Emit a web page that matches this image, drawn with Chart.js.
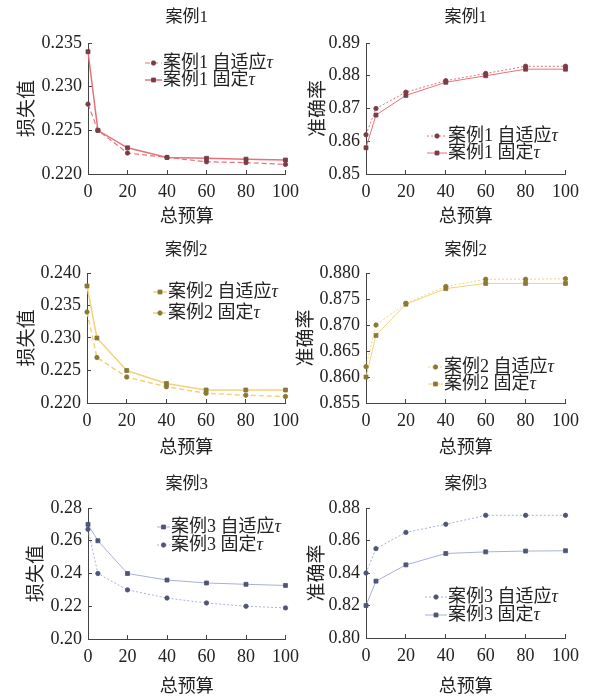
<!DOCTYPE html>
<html>
<head>
<meta charset="utf-8">
<script src="https://cdn.jsdelivr.net/npm/chart.js@4.4.1/dist/chart.umd.min.js"></script>
<style>
  body { margin: 0; background: #fff; }
  #wrap { position: relative; width: 590px; height: 696px; overflow: hidden; }
  canvas { position: absolute; }
</style>
</head>
<body>
<div id="wrap"></div>
<script>
// x values (总预算) and tick marks
const budget = [0, 5, 20, 40, 60, 80, 100]
const budgetTicks = [0, 20, 40, 60, 80, 100]

// 案例1
const loss1Adaptive = [0.2280, 0.2250, 0.2224, 0.2219, 0.2214, 0.2213, 0.2211]
const loss1Fixed = [0.2340, 0.2250, 0.2230, 0.2219, 0.2218, 0.2217, 0.2216]
const acc1Adaptive = [0.862, 0.870, 0.875, 0.8785, 0.8807, 0.8829, 0.8829]
const acc1Fixed = [0.858, 0.868, 0.874, 0.878, 0.880, 0.882, 0.882]
// 案例2
const loss2Adaptive = [0.238, 0.230, 0.225, 0.223, 0.222, 0.222, 0.222]
const loss2Fixed = [0.234, 0.227, 0.224, 0.2225, 0.2215, 0.2212, 0.2210]
const acc2Adaptive = [0.862, 0.870, 0.8742, 0.8774, 0.8788, 0.8788, 0.8789]
const acc2Fixed = [0.860, 0.868, 0.874, 0.877, 0.878, 0.878, 0.878]
// 案例3
const loss3Adaptive = [0.270, 0.260, 0.240, 0.236, 0.2342, 0.2334, 0.2327]
const loss3Fixed = [0.267, 0.240, 0.230, 0.225, 0.222, 0.220, 0.219]
const acc3Adaptive = [0.840, 0.855, 0.865, 0.870, 0.8755, 0.8755, 0.8755]
const acc3Fixed = [0.820, 0.835, 0.845, 0.852, 0.853, 0.8535, 0.8537]

// y tick values
const lossTicks1 = [0.220, 0.225, 0.230, 0.235]
const accTicks1 = [0.85, 0.86, 0.87, 0.88, 0.89]
const lossTicks2 = [0.220, 0.225, 0.230, 0.235, 0.240]
const accTicks2 = [0.855, 0.860, 0.865, 0.870, 0.875, 0.880]
const lossTicks3 = [0.20, 0.22, 0.24, 0.26, 0.28]
const accTicks3 = [0.80, 0.82, 0.84, 0.86, 0.88]

const FONT = '"Liberation Serif", "Noto Sans CJK SC", serif'
const INK = '#222'
const AXIS = '#444'
const TICK_SIZE = 18
const LEGEND_SIZE = 18

const red = {line: '#e8707c', mark: '#7a3c44'}
const gold = {line: '#f4d27c', mark: '#8a7935'}
const blue = {line: '#aab0d8', mark: '#4f5675'}

const dashed = [5, 3]
const dotted = [2, 2]

const panels = [
  {left: 0, top: 0, w: 310, h: 230, plot: [88, 43, 288, 174], titleY: 18, yTitleX: 28, xTitleY: 217,
   title: '案例1', yTitle: '损失值', yTicks: lossTicks1, dec: 3, color: red,
   legend: {x: 145, y: 63, gap: 17, len: 17},
   series: [
     {label: '案例1 自适应τ', data: loss1Adaptive, dash: dashed, width: 1.2, marker: 'circle'},
     {label: '案例1 固定τ', data: loss1Fixed, dash: [], width: 1.5, marker: 'rect'}]},
  {left: 295, top: 0, w: 295, h: 230, plot: [71, 43, 272, 174], titleY: 18, yTitleX: 24, xTitleY: 217,
   title: '案例1', yTitle: '准确率', yTicks: accTicks1, dec: 2, color: red,
   legend: {x: 132, y: 136, gap: 17, len: 20},
   series: [
     {label: '案例1 自适应τ', data: acc1Adaptive, dash: dotted, width: 1, marker: 'circle'},
     {label: '案例1 固定τ', data: acc1Fixed, dash: [], width: 1, marker: 'rect'}]},
  {left: 0, top: 230, w: 310, h: 230, plot: [87, 43, 287, 173], titleY: 21, yTitleX: 28, xTitleY: 218,
   title: '案例2', yTitle: '损失值', yTicks: lossTicks2, dec: 3, color: gold,
   legend: {x: 153, y: 62, gap: 21, len: 14},
   series: [
     {label: '案例2 自适应τ', data: loss2Adaptive, dash: [], width: 1.5, marker: 'rect'},
     {label: '案例2 固定τ', data: loss2Fixed, dash: dashed, width: 1.5, marker: 'circle'}]},
  {left: 295, top: 230, w: 295, h: 230, plot: [71, 43, 271, 173], titleY: 21, yTitleX: 12, xTitleY: 218,
   title: '案例2', yTitle: '准确率', yTicks: accTicks2, dec: 3, color: gold,
   legend: {x: 133, y: 137, gap: 17, len: 15},
   series: [
     {label: '案例2 自适应τ', data: acc2Adaptive, dash: dotted, width: 1, marker: 'circle'},
     {label: '案例2 固定τ', data: acc2Fixed, dash: [], width: 1, marker: 'rect'}]},
  {left: 0, top: 460, w: 310, h: 236, plot: [88, 48, 288, 179], titleY: 25, yTitleX: 37, xTitleY: 227,
   title: '案例3', yTitle: '损失值', yTicks: lossTicks3, dec: 2, color: blue,
   legend: {x: 157, y: 67, gap: 18, len: 13},
   series: [
     {label: '案例3 自适应τ', data: loss3Adaptive, dash: [], width: 1, marker: 'rect'},
     {label: '案例3 固定τ', data: loss3Fixed, dash: dotted, width: 1, marker: 'circle'}]},
  {left: 295, top: 460, w: 295, h: 236, plot: [71, 48, 272, 178], titleY: 25, yTitleX: 23, xTitleY: 227,
   title: '案例3', yTitle: '准确率', yTicks: accTicks3, dec: 2, color: blue,
   legend: {x: 130, y: 137, gap: 18, len: 22},
   series: [
     {label: '案例3 自适应τ', data: acc3Adaptive, dash: dotted, width: 1, marker: 'circle'},
     {label: '案例3 固定τ', data: acc3Fixed, dash: [], width: 1, marker: 'rect'}]}
]

// legend drawn inside the plot: line sample, marker, text with italic tau
const insideLegend = {
  id: 'insideLegend',
  afterDraw(chart, args, opts) {
    const {ctx} = chart
    chart.data.datasets.forEach((ds, i) => {
      const y = opts.y + i * opts.gap
      ctx.save()
      ctx.strokeStyle = ds.borderColor
      ctx.lineWidth = ds.borderWidth
      ctx.setLineDash(ds.borderDash)
      ctx.beginPath()
      ctx.moveTo(opts.x, y)
      ctx.lineTo(opts.x + opts.len, y)
      ctx.stroke()
      ctx.setLineDash([])
      const cx = opts.x + opts.len / 2
      ctx.fillStyle = ds.pointBackgroundColor
      ctx.strokeStyle = ds.pointBorderColor
      ctx.lineWidth = ds.pointBorderWidth
      ctx.beginPath()
      if (ds.pointStyle === 'rect') {
        const s = ds.pointRadius * Math.SQRT1_2
        ctx.rect(cx - s, y - s, 2 * s, 2 * s)
      } else {
        ctx.arc(cx, y, ds.pointRadius, 0, Math.PI * 2)
      }
      ctx.fill()
      ctx.stroke()
      const [head] = ds.label.split('τ')
      ctx.fillStyle = INK
      ctx.textBaseline = 'middle'
      ctx.font = LEGEND_SIZE + 'px ' + FONT
      const tx = opts.x + opts.len + 1
      ctx.fillText(head, tx, y)
      const hw = ctx.measureText(head).width
      ctx.font = 'italic ' + LEGEND_SIZE + 'px ' + FONT
      ctx.fillText('τ', tx + hw, y)
      ctx.restore()
    })
  }
}

Chart.defaults.font.family = FONT
Chart.defaults.color = INK

const wrap = document.getElementById('wrap')

panels.forEach(p => {
  const canvas = document.createElement('canvas')
  canvas.width = p.w
  canvas.height = p.h
  canvas.style.left = p.left + 'px'
  canvas.style.top = p.top + 'px'
  wrap.appendChild(canvas)

  const [pl, pt, pr, pb] = p.plot
  const titleLH = 17 * 1.2
  const xTitleLH = 18 * 1.2
  const yTitleLH = 19 * 1.2

  const datasets = p.series.map(s => ({
    label: s.label,
    data: budget.map((x, i) => ({x, y: s.data[i]})),
    borderColor: p.color.line,
    borderWidth: s.width,
    borderDash: s.dash,
    pointStyle: s.marker,
    pointRadius: s.marker === 'rect' ? 2.8 : 2.2,
    pointBackgroundColor: p.color.mark,
    pointBorderColor: p.color.mark,
    pointBorderWidth: 0.8,
    tension: 0,
    clip: false
  }))

  const gridOpts = {display: true, drawOnChartArea: false, drawTicks: true, tickLength: -4, color: AXIS, lineWidth: 1}
  const borderOpts = {display: true, color: AXIS, width: 1}

  new Chart(canvas, {
    type: 'line',
    data: {datasets},
    plugins: [insideLegend],
    options: {
      responsive: false,
      animation: false,
      devicePixelRatio: 1,
      layout: {padding: {left: 0, top: 0, right: p.w - pr, bottom: 0}},
      plugins: {
        legend: {display: false},
        tooltip: {enabled: false},
        title: {
          display: true, text: p.title, fullSize: false, color: INK,
          font: {size: 17, weight: 'normal'},
          padding: {top: p.titleY - titleLH / 2, bottom: pt - p.titleY - titleLH / 2}
        },
        insideLegend: p.legend
      },
      scales: {
        x: {
          type: 'linear', min: 0, max: 100,
          afterBuildTicks: s => { s.ticks = budgetTicks.map(v => ({value: v})) },
          afterFit: s => { s.height = p.h - pb },
          grid: gridOpts, border: borderOpts,
          ticks: {font: {size: TICK_SIZE}, color: INK, padding: 11, maxRotation: 0},
          title: {display: true, text: '总预算', color: INK, font: {size: 18},
                  padding: {top: 0, bottom: p.h - p.xTitleY - xTitleLH / 2}}
        },
        y: {
          type: 'linear', min: p.yTicks[0], max: p.yTicks[p.yTicks.length - 1],
          afterBuildTicks: s => { s.ticks = p.yTicks.map(v => ({value: v})) },
          afterFit: s => { s.width = pl },
          grid: gridOpts, border: borderOpts,
          ticks: {font: {size: TICK_SIZE}, color: INK, padding: 10, callback: v => v.toFixed(p.dec)},
          title: {display: true, text: p.yTitle, color: INK, font: {size: 19},
                  padding: {top: Math.max(0, p.yTitleX - yTitleLH / 2), bottom: 0}}
        }
      }
    }
  })
})
</script>
</body>
</html>
